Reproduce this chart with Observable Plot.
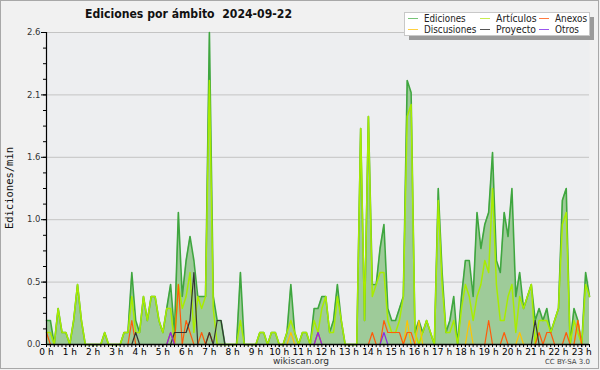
<!DOCTYPE html>
<html><head><meta charset="utf-8">
<script src="https://cdn.jsdelivr.net/npm/d3@7"></script>
<script src="https://cdn.jsdelivr.net/npm/@observablehq/plot@0.6"></script>
<style>html,body{margin:0;padding:0;background:#f1f1f1}svg{display:block}</style>
</head><body><div id="chart"></div>
<script>
// 10-minute bins, values in edits/min
const ediciones = [
0.2,0.2,0,0.3,0.1,0.1,0,0.2,0.5,0.2,
0,0,0,0,0,0.1,0,0,0,0,
0.1,0.1,0.6,0.2,0.1,0.4,0.2,0.4,0.4,0.2,
0.1,0.3,0.5,0.1,1.1,0.4,0.7,0.9,0.7,0.4,
0.4,0.4,2.6,0.4,0.2,0.2,0,0,0,0,
0.6,0,0,0,0,0.1,0.1,0,0.1,0.1,
0,0,0.1,0.5,0.1,0,0.1,0.1,0,0.3,
0.3,0.4,0.4,0.1,0.2,0.5,0.2,0,0,0,
0,1.8,0.2,1.9,0.5,0.5,0.8,1.0,0.3,0.2,
0.2,0.3,0.4,2.2,2.1,0.1,0.2,0.1,0.2,0.1,
0,1.3,0.6,0.1,0.2,0.4,0,0.4,0.7,0.7,
0.4,1.1,0.8,1.0,1.1,1.6,0.7,0.6,1.1,0.9,
1.3,0.4,0.6,0.3,0.4,0.5,0.2,0.3,0.2,0.3,
0.1,0.2,0.3,1.2,1.3,0,0.3,0.2,0,0.6,0.4];
const articulos = [
0.1,0.1,0,0.3,0.1,0.1,0,0.2,0.5,0.2,
0,0,0,0,0,0.1,0,0,0,0,
0.1,0.1,0.4,0.1,0.1,0.4,0.2,0.4,0.4,0.2,
0.1,0.3,0.3,0,0.5,0.3,0.4,0.6,0.1,0.4,
0.3,0.4,2.2,0.3,0,0,0,0,0,0,
0.2,0,0,0,0,0.1,0.1,0,0.1,0.1,
0,0,0.1,0.2,0.1,0,0.1,0.1,0,0.2,
0.1,0.3,0.4,0.1,0.1,0.4,0.2,0,0,0,
0,1.8,0.2,1.9,0.4,0.5,0.6,0.6,0.2,0.1,
0.1,0.2,0.4,1.9,2.0,0.1,0,0.1,0.2,0.1,
0,1.2,0.5,0.1,0.1,0.2,0,0.3,0.5,0.4,
0.2,0.4,0.5,0.7,0.6,1.3,0.5,0.2,0.2,0.4,
0.5,0.1,0.4,0.3,0.4,0.5,0,0.2,0.2,0.2,
0.1,0.2,0.3,1.0,1.1,0,0.2,0.1,0,0.5,0.4];
const anexos = [
0.1,0,0,0,0,0,0,0,0,0,
0,0,0,0,0,0,0,0,0,0,
0,0,0.2,0,0,0,0,0,0,0,
0,0,0.1,0,0.5,0,0.2,0.1,0,0,
0.1,0,0.1,0,0,0,0,0,0,0,
0,0,0,0,0,0,0,0,0,0,
0,0,0,0,0,0,0,0,0,0,
0.1,0,0,0,0,0,0,0,0,0,
0,0,0,0,0.1,0,0,0.2,0.1,0.1,
0.1,0.1,0,0.1,0.1,0,0,0,0,0,
0,0,0,0,0,0,0,0,0,0,
0,0,0,0,0.2,0,0,0,0.1,0,
0,0,0,0,0,0,0,0.1,0,0.1,
0.1,0,0,0,0.1,0,0,0.2,0,0,0];
const discusiones = [
0,0,0,0,0,0,0,0,0,0,
0,0,0,0,0,0,0,0,0,0,
0,0,0,0,0,0,0,0,0,0,
0,0,0,0,0,0,0,0,0,0,
0,0,0,0,0,0,0,0,0,0,
0,0,0,0,0,0,0,0,0,0,
0,0,0,0.1,0,0,0,0,0,0,
0,0,0,0,0,0,0,0,0,0,
0,0,0,0,0,0,0,0,0,0,
0,0,0,0.2,0,0,0.2,0,0,0,
0,0,0,0,0,0,0,0,0,0.2,
0,0,0,0,0,0,0,0,0,0,
0,0,0.1,0,0,0,0,0,0,0,
0,0,0,0,0,0,0,0.2,0,0,0];
const proyecto = [
0,0,0,0,0,0,0,0,0,0,
0,0,0,0,0,0,0,0,0,0,
0,0,0,0.1,0,0,0,0,0,0,
0,0,0,0.1,0.1,0.1,0.1,0.2,0.6,0,
0,0,0.1,0,0.2,0.2,0,0,0,0,
0,0,0,0,0,0,0,0,0,0,
0,0,0,0,0,0,0,0,0,0,
0,0,0,0,0,0,0,0,0,0,
0,0,0,0,0,0,0,0,0,0,
0,0,0,0,0,0,0,0,0,0,
0,0,0,0,0,0,0,0,0,0,
0,0,0,0,0,0,0,0,0,0,
0,0,0,0,0,0,0.2,0,0,0,
0,0,0,0,0,0,0,0,0,0,0];
const otros = [
0,0,0,0,0,0,0,0,0,0,
0,0,0,0,0,0,0,0,0,0,
0,0,0,0,0,0,0,0,0,0,
0,0,0.1,0,0,0,0,0,0,0,
0,0,0,0,0,0,0,0,0,0,
0,0,0,0,0,0,0,0,0,0,
0,0,0,0,0,0,0,0,0,0,
0.1,0,0,0,0,0,0,0,0,0,
0,0,0,0,0,0,0,0.1,0,0,
0,0,0,0,0,0,0,0,0,0,
0,0,0,0,0,0,0,0,0,0,
0,0,0,0,0,0,0,0,0,0,
0,0,0,0,0,0,0,0,0,0,
0,0,0,0,0,0,0,0,0,0,0];

const seriesNames = ["Ediciones","Artículos","Anexos","Discusiones","Proyecto","Otros"];
const seriesColors = ["#3fa63f","#a8ec00","#ff5a0a","#ffc400","#333333","#8a2be2"];
const yTickValues = [0, 0.52, 1.04, 1.56, 2.08, 2.6];
const hourLabels = d3.range(24).map(h => `${h} h`);
const titleText = "Ediciones por ámbito  2024-09-22";
const yLabel = "Ediciones/min";

const bins = d3.range(ediciones.length);
const rows = bins.map(i => ({i, ed: ediciones[i], art: articulos[i], anx: anexos[i], dis: discusiones[i], pro: proyecto[i], otr: otros[i]}));

const chart = Plot.plot({
  width: 600, height: 370,
  marginLeft: 46, marginRight: 11, marginTop: 32, marginBottom: 26,
  style: {background: "#f1f1f1", fontFamily: "DejaVu Sans, sans-serif", overflow: "visible"},
  x: {domain: [0, 140], axis: null, label: null},
  y: {domain: [0, 2.6], axis: null, label: null},
  marks: [
    Plot.frame({fill: "#edeef0", stroke: null}),
    Plot.gridY(yTickValues, {stroke: "#c4c4c4", strokeOpacity: 1, strokeWidth: 1}),
    Plot.areaY(rows, {x: "i", y: "ed", fill: "#9ecb99"}),
    Plot.lineY(rows, {x: "i", y: "ed", stroke: seriesColors[0], strokeWidth: 1.6}),
    Plot.lineY(rows, {x: "i", y: "art", stroke: seriesColors[1], strokeWidth: 1.5}),
    Plot.lineY(rows, {x: "i", y: "dis", stroke: seriesColors[3], strokeWidth: 1.2}),
    Plot.lineY(rows, {x: "i", y: "anx", stroke: seriesColors[2], strokeWidth: 1.2}),
    Plot.lineY(rows, {x: "i", y: "pro", stroke: seriesColors[4], strokeWidth: 1.2}),
    Plot.lineY(rows, {x: "i", y: "otr", stroke: seriesColors[5], strokeWidth: 1.2}),
    Plot.axisY(d3.range(0, 21).map(k => k * 0.13), {tickSize: 3, tickFormat: () => "", stroke: "#000", label: null}),
    Plot.axisY(yTickValues, {tickSize: 5, tickPadding: 1, tickFormat: d => d.toFixed(1), fontSize: 8.5, fill: "#333", stroke: "#000", label: null}),
    Plot.axisX(bins, {tickSize: 3, tickFormat: () => "", stroke: "#000", label: null}),
    Plot.axisX(d3.range(0, 141, 6), {tickSize: 3, tickPadding: 1, tickFormat: d => hourLabels[d / 6], fontSize: 9, fill: "#000", label: null}),
    Plot.ruleX([0], {stroke: "#000", strokeWidth: 1.2}),
    Plot.ruleY([0], {stroke: "#000", strokeWidth: 1.5})
  ]
});
document.getElementById("chart").appendChild(chart);

const svg = d3.select(chart);
// border
svg.append("rect").attr("x", 0.5).attr("y", 0.5).attr("width", 598).attr("height", 368)
  .attr("fill", "none").attr("stroke", "#a8a8a8");
// title
svg.append("text").attr("x", 85).attr("y", 18).attr("text-anchor", "start").attr("font-size", 13).attr("font-weight", "bold")
  .attr("font-family", "DejaVu Sans, sans-serif").attr("fill", "#111")
  .attr("textLength", 207).attr("lengthAdjust", "spacingAndGlyphs").style("white-space", "pre").text(titleText);
// y label
svg.append("text").attr("transform", "translate(13,188) rotate(-90)").attr("text-anchor", "middle")
  .attr("font-family", "DejaVu Sans Mono, monospace").attr("font-size", 10.5).attr("fill", "#111").text(yLabel);
// bottom texts
svg.append("text").attr("x", 301).attr("y", 364).attr("text-anchor", "middle")
  .attr("font-family", "DejaVu Sans, sans-serif").attr("font-size", 9).attr("fill", "#333").text("wikiscan.org");
svg.append("text").attr("x", 590).attr("y", 364).attr("text-anchor", "end")
  .attr("font-family", "DejaVu Sans, sans-serif").attr("font-size", 7).attr("fill", "#444").text("CC BY-SA 3.0");
// legend
const lg = svg.append("g");
lg.append("rect").attr("x", 409).attr("y", 17).attr("width", 185).attr("height", 23).attr("fill", "#9a9a9a");
lg.append("rect").attr("x", 404.5).attr("y", 12.5).attr("width", 185).attr("height", 23).attr("fill", "#fff").attr("stroke", "#c8c8c8");
const legendPos = [[408,18.5,424,41.7],[480,18.5,496,40.7],[539,18.5,555,32],[408,29.5,424,52.3],[480,29.5,496,40],[539,29.5,555,24]];
const legendColors = ["#77c477","#c8ec50","#ff7a40","#ffd040","#555555","#9955ee"];
seriesNames.forEach((name, k) => {
  const [lx, ly, tx, tw] = legendPos[k];
  lg.append("line").attr("x1", lx).attr("x2", lx + 10).attr("y1", ly).attr("y2", ly).attr("stroke", legendColors[k]).attr("stroke-width", 1);
  lg.append("text").attr("x", tx).attr("y", ly + 3.5).attr("text-anchor", "start").attr("font-family", "DejaVu Sans, sans-serif").attr("font-size", 10)
    .attr("fill", "#222").attr("textLength", tw).attr("lengthAdjust", "spacingAndGlyphs").text(name);
});
</script>
</body></html>
